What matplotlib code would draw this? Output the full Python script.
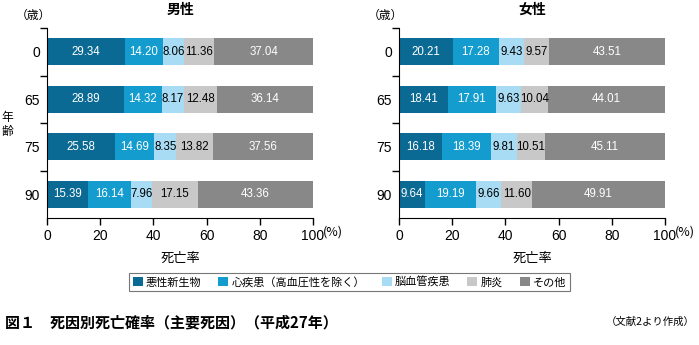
import matplotlib
matplotlib.use("Agg")
import matplotlib.pyplot as plt
from matplotlib.patches import Patch
import numpy as np

plt.rcParams['font.family'] = ['Noto Sans CJK JP', 'DejaVu Sans']

ages = ["0", "65", "75", "90"]
causes = ["悪性新生物", "心疾患（高血圧性を除く）", "脳血管疾患", "肺炎", "その他"]
male = {
    "悪性新生物": [29.34, 28.89, 25.58, 15.39],
    "心疾患": [14.20, 14.32, 14.69, 16.14],
    "脳血管疾患": [8.06, 8.17, 8.35, 7.96],
    "肺炎": [11.36, 12.48, 13.82, 17.15],
    "その他": [37.04, 36.14, 37.56, 43.36],
}
female = {
    "悪性新生物": [20.21, 18.41, 16.18, 9.64],
    "心疾患": [17.28, 17.91, 18.39, 19.19],
    "脳血管疾患": [9.43, 9.63, 9.81, 9.66],
    "肺炎": [9.57, 10.04, 10.51, 11.60],
    "その他": [43.51, 44.01, 45.11, 49.91],
}
xticks = [0, 20, 40, 60, 80, 100]
colors = ["#0b6a94", "#139ccd", "#a8dcf5", "#c8c8c8", "#888888"]
txtcolors = ["white", "white", "black", "black", "white"]

fig = plt.figure(figsize=(6.99, 3.45), dpi=100)
axL = fig.add_axes([47/699, 1-218/345, 266/699, 190/345])
axR = fig.add_axes([399/699, 1-218/345, 266/699, 190/345])

numfont = ['Liberation Sans', 'DejaVu Sans']

def draw(ax, data, title):
    y = np.arange(len(ages))
    left = np.zeros(len(ages))
    for i, key in enumerate(data):
        vals = np.array(data[key])
        ax.barh(y, vals, left=left, height=0.57, color=colors[i], edgecolor='none')
        for yi, (l, v) in enumerate(zip(left, vals)):
            ax.text(l + v/2, yi, f"{v:.2f}", ha='center', va='center',
                    fontsize=8.3, color=txtcolors[i], family=numfont)
        left += vals
    ax.set_xlim(0, 100)
    ax.set_ylim(3.5, -0.5)
    ax.spines['top'].set_visible(False)
    ax.spines['right'].set_visible(False)
    ax.set_yticks(y)
    ax.set_yticklabels(ages, fontsize=10, family=numfont)
    ax.tick_params(axis='y', which='major', length=0, pad=5)
    ax.set_yticks([-0.5, 0.5, 1.5, 2.5], minor=True)
    ax.tick_params(axis='y', which='minor', length=5, width=1)
    ax.set_xticks(xticks)
    ax.set_xticklabels([str(t) for t in xticks], fontsize=10, family=numfont)
    ax.tick_params(axis='x', length=5, width=1, pad=3)
    ax.text(103.8, -8/190, "(%)", transform=ax.get_xaxis_transform(), ha='left', va='top',
            fontsize=9)
    ax.set_title(title, fontsize=10, fontweight='bold', pad=10)
    ax.set_xlabel("死亡率", fontsize=9.5, labelpad=6)
    ax.text(-0.053, 1.068, "（歳）", transform=ax.transAxes, ha='center', va='center', fontsize=8.5)

draw(axL, male, "男性")
draw(axR, female, "女性")

fig.text(7/699, 1-118/345, "年", ha='center', va='center', fontsize=8.5)
fig.text(7/699, 1-132/345, "齢", ha='center', va='center', fontsize=8.5)

handles = [Patch(facecolor=c, edgecolor='none') for c in colors]
leg = fig.legend(handles, causes, loc='center', bbox_to_anchor=(0.5, 1-282/345), ncol=5,
                 fontsize=8, frameon=True, fancybox=False, handlelength=0.9, handleheight=0.9,
                 handletextpad=0.3, columnspacing=1.5, borderpad=0.3, edgecolor='#555555')
leg.get_frame().set_linewidth(0.8)

fig.text(5/699, 1-322/345, "図１　死因別死亡確率（主要死因）（平成27年）", ha='left', va='center',
         fontsize=10.8, fontweight='bold')
fig.text(695/699, 1-322/345, "（文献2より作成）", ha='right', va='center', fontsize=7.5)

fig.savefig("out.png", dpi=100)
